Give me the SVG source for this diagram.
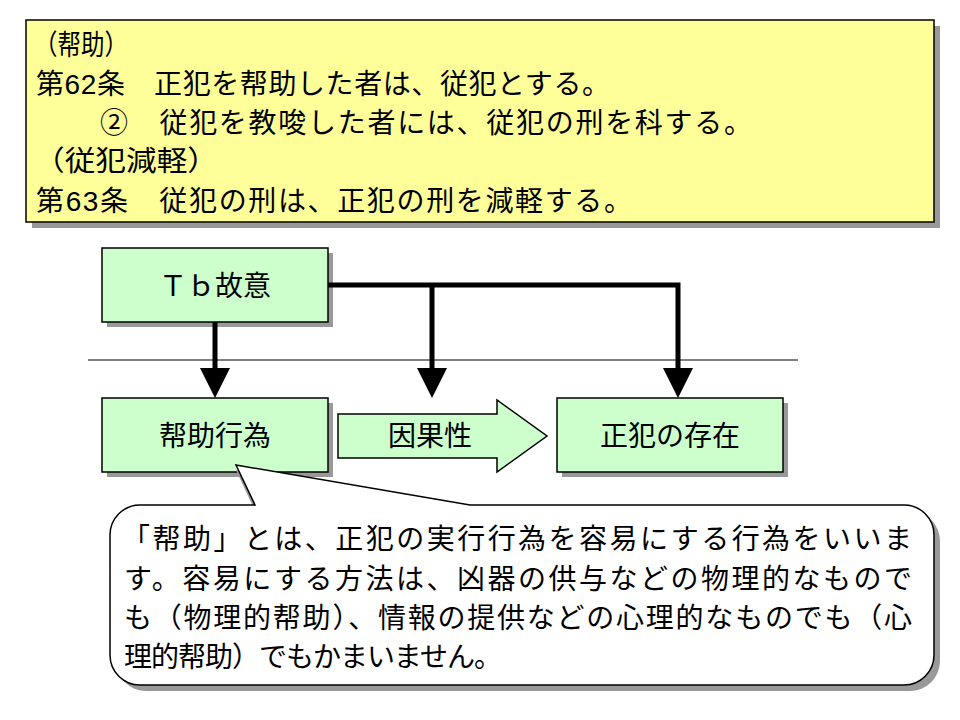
<svg xmlns="http://www.w3.org/2000/svg" width="960" height="720" viewBox="0 0 960 720">
<defs>
<style>
text{font-family:"Liberation Sans","Noto Sans CJK JP",sans-serif;font-size:28px;fill:#000}
.b{stroke:#000;stroke-width:1.5}
.sh{fill:#999}
.c{stroke:#000;stroke-width:5;fill:none}
</style>
</defs>
<rect width="960" height="720" fill="#fff"/>
<g id="law">
<rect x="32" y="26" width="908" height="202" class="sh"/>
<rect x="26" y="20" width="908" height="202" fill="#FFFF99" class="b"/>
<text x="34" y="55" textLength="94" lengthAdjust="spacingAndGlyphs">（帮助）</text>
<text x="36" y="94" textLength="574" lengthAdjust="spacing">第62条　正犯を帮助した者は、従犯とする。</text>
<text x="100" y="133" textLength="652" lengthAdjust="spacing">②　従犯を教唆した者には、従犯の刑を科する。</text>
<text x="34" y="171" textLength="184" lengthAdjust="spacingAndGlyphs">（従犯減軽）</text>
<text x="36" y="211" textLength="596" lengthAdjust="spacing">第63条　従犯の刑は、正犯の刑を減軽する。</text>
</g>
<line x1="88" y1="360" x2="798" y2="360" stroke="#000" stroke-width="1"/>
<g id="tb">
<rect x="107" y="253" width="226" height="74" class="sh"/>
<rect x="102" y="248" width="226" height="74" fill="#CCFFCC" class="b"/>
<text x="215" y="296" text-anchor="middle">Ｔｂ故意</text>
</g>
<g id="help">
<rect x="107" y="403" width="226" height="74" class="sh"/>
<rect x="102" y="398" width="226" height="74" fill="#CCFFCC" class="b"/>
<text x="215" y="446" text-anchor="middle">帮助行為</text>
</g>
<g id="main">
<rect x="562" y="403" width="226" height="74" class="sh"/>
<rect x="557" y="398" width="226" height="74" fill="#CCFFCC" class="b"/>
<text x="670" y="446" text-anchor="middle">正犯の存在</text>
</g>
<g id="causal">
<path d="M338,414H497V400L547,436L497,472V458H338Z" fill="#CCFFCC" class="b"/>
<text x="430" y="446" text-anchor="middle">因果性</text>
</g>
<g id="connectors">
<line x1="215" y1="322" x2="215" y2="370" class="c"/>
<path d="M200,368H230L215,398Z"/>
<path d="M328,285H678V370" class="c"/>
<path d="M663,368H693L678,398Z"/>
<line x1="432" y1="285" x2="432" y2="370" class="c"/>
<path d="M417,368H447L432,398Z"/>
</g>
<g id="callout">
<path d="M146,511H255L236,470L470,511H910A30,30 0 0 1 940,541V661A30,30 0 0 1 910,691H146A30,30 0 0 1 116,661V541A30,30 0 0 1 146,511Z" class="sh"/>
<path d="M140,505H255L236,465L470,505H904A30,30 0 0 1 934,535V655A30,30 0 0 1 904,685H140A30,30 0 0 1 110,655V535A30,30 0 0 1 140,505Z" fill="#fff" class="b"/>
<text x="122" y="549" textLength="790" lengthAdjust="spacing">「帮助」とは、正犯の実行行為を容易にする行為をいいま</text>
<text x="124" y="589" textLength="788" lengthAdjust="spacing">す。容易にする方法は、凶器の供与などの物理的なもので</text>
<text x="124" y="628" textLength="788" lengthAdjust="spacing">も（物理的帮助）、情報の提供などの心理的なものでも（心</text>
<text x="124" y="667" textLength="378" lengthAdjust="spacing">理的帮助）でもかまいません。</text>
</g>
</svg>
